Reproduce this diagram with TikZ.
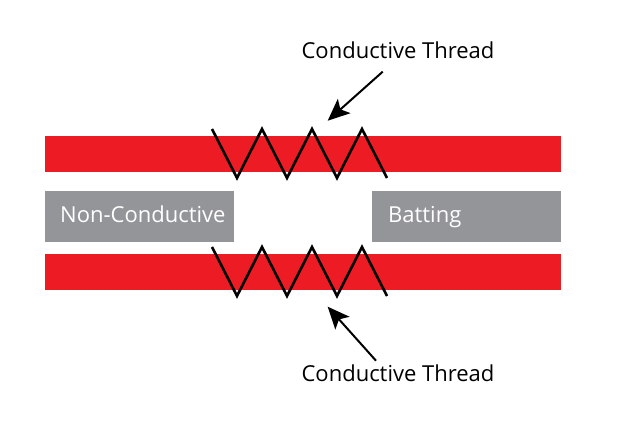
\documentclass[tikz,border=0pt]{standalone}
\usepackage{fontspec}
\setmainfont{Open Sans}
\usetikzlibrary{arrows.meta}
\definecolor{barred}{HTML}{ED1C24}
\definecolor{battgray}{HTML}{939598}
\begin{document}
\begin{tikzpicture}[x=1pt,y=-1pt,
  redbar/.style={fill=barred,draw=none},
  graybox/.style={fill=battgray,draw=none},
  thread/.style={draw=black,line width=2.6pt,line join=miter},
  pointer/.style={draw=black,line width=2pt,-{Stealth[length=22pt,width=19pt,inset=5pt]}},
  label/.style={font=\fontsize{22}{26}\selectfont,text=black,inner sep=0pt},
  boxlabel/.style={font=\fontsize{22}{26}\selectfont,text=white,inner sep=0pt,anchor=base west}]
\useasboundingbox (0,0) rectangle (620,430);
\fill[white] (0,0) rectangle (620,430);
% layers
\path[redbar] (45,136) rectangle (561,172);
\path[redbar] (45,254) rectangle (561,290);
\path[graybox] (45,191) rectangle (234,242);
\path[graybox] (372,191) rectangle (561,242);
\node[boxlabel] (nc) at (60,222.7) {Non-Conductive};
\node[boxlabel] (bt) at (388,222.7) {Batting};
% threads
\draw[thread] (212,129) -- (237,178) -- (262,129) -- (287,178) -- (312,129) -- (337,178) -- (362,129) -- (387,178);
\draw[thread] (212,247) -- (237,296) -- (262,247) -- (287,296) -- (312,247) -- (337,296) -- (362,247) -- (387,296);
% labels
\node[label,anchor=base] (t1) at (398,59) {Conductive Thread};
\node[label,anchor=base] (t2) at (398,381.7) {Conductive Thread};
\coordinate (s1) at (382.7,71.7);
\coordinate (e1) at (327.7,120.7);
\coordinate (s2) at (376,360.7);
\coordinate (e2) at (327.7,306.7);
\draw[pointer] (s1) -- (e1);
\draw[pointer] (s2) -- (e2);
\end{tikzpicture}
\end{document}
